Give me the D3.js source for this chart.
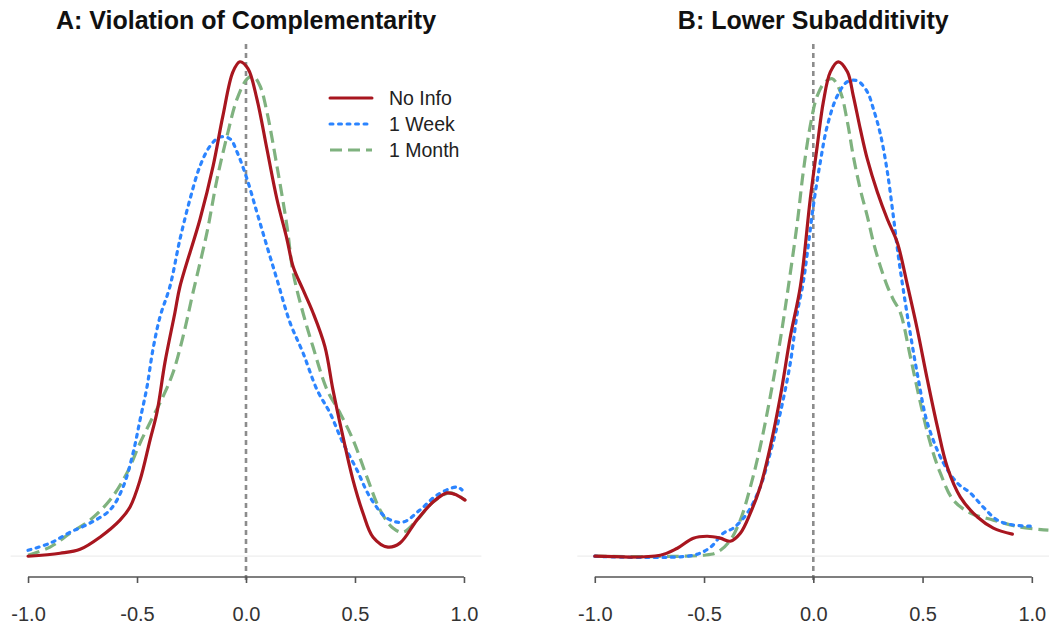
<!DOCTYPE html>
<html>
<head>
<meta charset="utf-8">
<script src="https://cdn.jsdelivr.net/npm/d3@7"></script>
<style>
  html, body { margin: 0; padding: 0; background: #fff; }
  svg { display: block; }
</style>
</head>
<body>
<svg id="chart" width="1049" height="630"></svg>
<script>
// ---------- data ----------
const seriesNames = ["No Info", "1 Week", "1 Month"];
const panelTitles = ["A: Violation of Complementarity", "B: Lower Subadditivity"];
const xTicks = [-1.0, -0.5, 0.0, 0.5, 1.0];
const xTickLabels = ["-1.0", "-0.5", "0.0", "0.5", "1.0"];

// Panel A
const aNoInfoX = [-1.0,-0.853,-0.761,-0.670,-0.578,-0.532,-0.486,-0.440,-0.408,-0.372,-0.326,-0.303,-0.211,-0.151,-0.106,-0.060,-0.028,0.009,0.050,0.096,0.142,0.188,0.216,0.261,0.307,0.362,0.399,0.445,0.491,0.537,0.583,0.651,0.706,0.784,0.858,0.922,0.968,1.005];
const aNoInfoY = [0,0.012,0.028,0.077,0.146,0.199,0.308,0.471,0.584,0.783,0.986,1.091,1.363,1.578,1.781,1.959,2.0,1.972,1.850,1.647,1.444,1.282,1.172,1.079,0.986,0.848,0.673,0.483,0.308,0.174,0.077,0.037,0.053,0.146,0.219,0.256,0.247,0.227];
const aWeekX = [-1.0,-0.899,-0.807,-0.716,-0.624,-0.564,-0.518,-0.486,-0.454,-0.427,-0.394,-0.349,-0.303,-0.257,-0.211,-0.165,-0.119,-0.073,-0.041,0.005,0.050,0.096,0.142,0.202,0.261,0.326,0.385,0.445,0.509,0.569,0.647,0.720,0.798,0.876,0.968,0.991];
const aWeekY = [0.024,0.053,0.097,0.134,0.187,0.280,0.418,0.552,0.686,0.836,0.970,1.091,1.282,1.444,1.578,1.659,1.696,1.688,1.635,1.525,1.391,1.254,1.120,0.945,0.824,0.673,0.580,0.458,0.349,0.239,0.154,0.138,0.187,0.247,0.280,0.268];
const aMonthX = [-1.0,-0.899,-0.807,-0.716,-0.624,-0.546,-0.486,-0.427,-0.381,-0.335,-0.289,-0.243,-0.179,-0.133,-0.087,-0.041,0.005,0.032,0.064,0.096,0.142,0.188,0.216,0.261,0.307,0.372,0.431,0.491,0.555,0.615,0.674,0.720,0.784,0.858,0.936,1.005];
const aMonthY = [0.004,0.037,0.093,0.146,0.227,0.337,0.458,0.564,0.645,0.742,0.888,1.067,1.310,1.525,1.700,1.850,1.931,1.943,1.903,1.797,1.578,1.335,1.148,0.986,0.848,0.673,0.580,0.471,0.320,0.187,0.114,0.097,0.146,0.219,0.256,0.227];

// Panel B
const bNoInfoX = [-1.0,-0.700,-0.622,-0.549,-0.485,-0.426,-0.380,-0.334,-0.288,-0.243,-0.197,-0.151,-0.105,-0.059,-0.014,0.018,0.046,0.078,0.114,0.156,0.183,0.215,0.247,0.293,0.339,0.384,0.430,0.476,0.522,0.568,0.613,0.673,0.751,0.824,0.911];
const bNoInfoY = [0,0.005,0.042,0.095,0.105,0.095,0.079,0.121,0.227,0.364,0.575,0.839,1.155,1.419,1.878,2.157,2.389,2.547,2.6,2.547,2.421,2.247,2.089,1.915,1.772,1.651,1.429,1.192,0.928,0.680,0.469,0.311,0.206,0.148,0.116];
const bWeekX = [-1.0,-0.549,-0.471,-0.412,-0.366,-0.302,-0.243,-0.197,-0.151,-0.105,-0.073,-0.046,-0.027,0.0,0.032,0.064,0.110,0.156,0.201,0.247,0.275,0.307,0.339,0.366,0.389,0.412,0.444,0.481,0.522,0.595,0.659,0.719,0.778,0.842,0.915,0.993];
const bWeekY = [0,0.005,0.047,0.121,0.148,0.227,0.364,0.543,0.754,1.018,1.282,1.440,1.598,1.841,2.073,2.263,2.421,2.495,2.500,2.442,2.352,2.220,2.020,1.790,1.580,1.400,1.170,0.928,0.701,0.491,0.385,0.332,0.258,0.190,0.164,0.158];
const bMonthX = [-1.0,-0.503,-0.439,-0.380,-0.334,-0.288,-0.243,-0.197,-0.151,-0.114,-0.073,-0.046,-0.014,0.018,0.055,0.087,0.124,0.156,0.183,0.215,0.247,0.275,0.307,0.339,0.366,0.398,0.444,0.490,0.535,0.581,0.641,0.719,0.824,0.947,1.076];
const bMonthY = [0,0.005,0.021,0.084,0.190,0.364,0.575,0.839,1.139,1.419,1.756,2.020,2.263,2.421,2.495,2.511,2.442,2.284,2.104,1.930,1.788,1.651,1.524,1.419,1.350,1.282,1.050,0.807,0.596,0.438,0.295,0.227,0.190,0.153,0.137];

const panelSeries = [
  [[aNoInfoX, aNoInfoY], [aWeekX, aWeekY], [aMonthX, aMonthY]],
  [[bNoInfoX, bNoInfoY], [bWeekX, bWeekY], [bMonthX, bMonthY]]
];

// ---------- style ----------
const colors = ["#a8161f", "#2b84ff", "#7fb27f"];
const dashes = [null, "3,5.5", "12,6"];
const caps = ["round", "round", "butt"];

const svg = d3.select("#chart");
const panels = [
  {left: 10.6, right: 481.4},
  {left: 577.3, right: 1049.3}
];
const plotTop = 42, plotBottom = 576;

panels.forEach((p, i) => {
  const data = panelSeries[i];
  const ymax = d3.max(data, s => d3.max(s[1]));
  const x = d3.scaleLinear().domain([-1.08, 1.08]).range([p.left, p.right]);
  const y = d3.scaleLinear().domain([-0.04 * ymax, 1.04 * ymax]).range([plotBottom, plotTop]);
  const g = svg.append("g");

  const clipId = "clip" + i;
  svg.append("clipPath").attr("id", clipId).append("rect")
    .attr("x", p.left).attr("y", plotTop).attr("width", p.right - p.left).attr("height", plotBottom - plotTop);

  // baseline at 0
  g.append("line")
    .attr("x1", p.left).attr("x2", p.right)
    .attr("y1", y(0)).attr("y2", y(0))
    .attr("stroke", "#eeeeee").attr("stroke-width", 1.2);

  // vertical reference at 0
  g.append("line")
    .attr("x1", x(0)).attr("x2", x(0))
    .attr("y1", plotTop + 2).attr("y2", plotBottom + 6)
    .attr("stroke", "#8c8c8c").attr("stroke-width", 2.6)
    .attr("stroke-dasharray", "5,4");

  // density curves
  const line = d3.line().x(d => x(d[0])).y(d => y(Math.max(0, d[1]))).curve(d3.curveCatmullRom.alpha(0.5));
  const cg = g.append("g").attr("clip-path", `url(#${clipId})`);
  [2, 1, 0].forEach(k => {
    const pts = d3.zip(data[k][0], data[k][1]);
    cg.append("path")
      .attr("d", line(pts))
      .attr("fill", "none")
      .attr("stroke", colors[k])
      .attr("stroke-width", 3.2)
      .attr("stroke-linecap", caps[k])
      .attr("stroke-linejoin", "round")
      .attr("stroke-dasharray", dashes[k]);
  });

  // x axis
  const axis = d3.axisBottom(x).tickValues(xTicks).tickFormat((d, j) => xTickLabels[j]).tickSize(6).tickSizeOuter(0);
  const ag = g.append("g").attr("transform", `translate(0,${plotBottom + 1})`).call(axis);
  ag.select(".domain").attr("stroke", "#555").attr("stroke-width", 1.6)
    .attr("d", `M${x(-1)},0H${x(1)}`);
  ag.selectAll(".tick line").attr("stroke", "#555").attr("stroke-width", 1.6);
  ag.selectAll(".tick text")
    .attr("y", 44).attr("dy", 0)
    .attr("fill", "#333")
    .style("font-family", "'Liberation Sans', Arial, sans-serif")
    .style("font-size", "20px");

  // title
  svg.append("text")
    .attr("x", x(0)).attr("y", 29)
    .attr("text-anchor", "middle")
    .style("font-family", "'Liberation Sans', Arial, sans-serif")
    .style("font-size", "25px").style("font-weight", "bold")
    .attr("fill", "#111")
    .text(panelTitles[i]);
});

// legend (panel A)
const legend = svg.append("g");
const legendY = d3.scalePoint().domain(seriesNames).range([98, 150]);
seriesNames.forEach((name, k) => {
  legend.append("line")
    .attr("x1", 330).attr("x2", 372)
    .attr("y1", legendY(name)).attr("y2", legendY(name))
    .attr("stroke", colors[k]).attr("stroke-width", 3)
    .attr("stroke-linecap", caps[k])
    .attr("stroke-dasharray", dashes[k]);
  legend.append("text")
    .attr("x", 389).attr("y", legendY(name))
    .attr("dy", "0.36em")
    .style("font-family", "'Liberation Sans', Arial, sans-serif")
    .style("font-size", "19.5px")
    .attr("fill", "#222")
    .text(name);
});
</script>
</body>
</html>
